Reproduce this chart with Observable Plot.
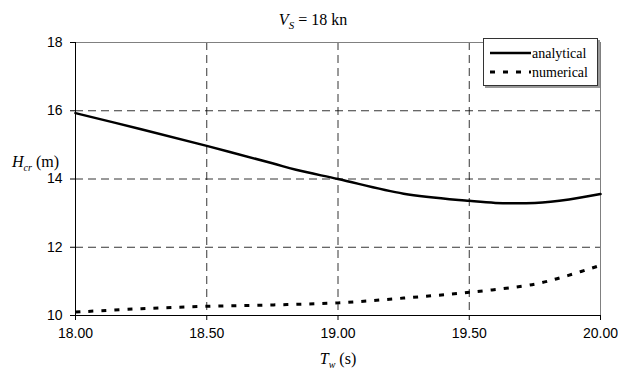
<!DOCTYPE html>
<html>
<head>
<meta charset="utf-8">
<script src="https://cdn.jsdelivr.net/npm/d3@7"></script>
<script src="https://cdn.jsdelivr.net/npm/@observablehq/plot@0.6"></script>
<style>
  html, body { margin: 0; padding: 0; background: #fff; }
  #wrap { position: relative; width: 618px; height: 371px; overflow: hidden; }
  .ov { position: absolute; font-family: "Liberation Serif", "Times New Roman", serif; color: #000; white-space: nowrap; }
  #legend { position: absolute; left: 483px; top: 38px; width: 113px; height: 46px; background: #fff;
            border: 1px solid #333; box-shadow: 2px 2px 0 #999; }
</style>
</head>
<body>
<div id="wrap">
  <div id="chart"></div>
  <div class="ov" id="title" style="left:213px; top:11px; width:200px; text-align:center; font-size:16px;"><i>V</i><sub style="font-size:11px;"><i>S</i></sub> = 18 kn</div>
  <div class="ov" id="ylab" style="left:12px; top:153px; font-size:16px;"><i>H</i><sub style="font-size:10px;"><i>cr</i></sub>&nbsp;(m)</div>
  <div class="ov" id="xlab" style="left:300px; top:350px; width:76px; text-align:center; font-size:16px;"><i>T</i><sub style="font-size:10px;"><i>w</i></sub> (s)</div>
  <div id="legend"></div>
</div>
<script>
// ---- data ----
const analyticalT = [18.0, 18.25, 18.5, 18.75, 18.84, 19.0, 19.25, 19.5, 19.6, 19.75, 19.88, 20.0];
const analyticalH = [15.93, 15.46, 14.97, 14.46, 14.27, 14.0, 13.57, 13.36, 13.30, 13.30, 13.40, 13.56];
const numericalT = [18.0, 18.25, 18.5, 18.75, 19.0, 19.25, 19.5, 19.75, 19.875, 20.0];
const numericalH = [10.10, 10.20, 10.27, 10.31, 10.37, 10.51, 10.68, 10.92, 11.17, 11.47];
const xTicks = [18.0, 18.5, 19.0, 19.5, 20.0];
const yTicks = [10, 12, 14, 16, 18];
const seriesNames = ["analytical", "numerical"];

const analytical = analyticalT.map((t, i) => ({t, h: analyticalH[i]}));
const numerical = numericalT.map((t, i) => ({t, h: numericalH[i]}));

const gridDash = "8,5";
const numDash = "5,8";

const chart = Plot.plot({
  width: 618,
  height: 371,
  marginLeft: 75,
  marginRight: 18,
  marginTop: 42,
  marginBottom: 56,
  style: {fontFamily: "'Liberation Sans', Arial, sans-serif", fontSize: "14px", background: "#fff", color: "#000"},
  x: {domain: [18, 20], ticks: xTicks, tickFormat: d3.format(".2f")},
  y: {domain: [10, 18], ticks: yTicks},
  marks: [
    Plot.gridX(xTicks.slice(1, -1), {stroke: "#000", strokeOpacity: 1, strokeWidth: 0.8, strokeDasharray: gridDash}),
    Plot.gridY(yTicks.slice(1, -1), {stroke: "#000", strokeOpacity: 1, strokeWidth: 0.8, strokeDasharray: gridDash}),
    Plot.ruleY([yTicks[yTicks.length - 1]], {stroke: "#808080"}),
    Plot.ruleX([xTicks[xTicks.length - 1]], {stroke: "#808080"}),
    Plot.line(analytical, {x: "t", y: "h", stroke: "#000", strokeWidth: 2.5, curve: "catmull-rom"}),
    Plot.line(numerical, {x: "t", y: "h", stroke: "#000", strokeWidth: 3, strokeLinecap: "butt", strokeDasharray: numDash, curve: "catmull-rom"}),
    Plot.ruleY([yTicks[0]], {stroke: "#000"}),
    Plot.ruleX([xTicks[0]], {stroke: "#000"}),
    Plot.axisX({ticks: xTicks, tickFormat: d3.format(".2f"), tickSize: 5, tickPadding: 8, label: null}),
    Plot.axisY({ticks: yTicks, tickSize: 5, tickPadding: 8, label: null})
  ]
});
document.getElementById("chart").appendChild(chart);

// legend
const leg = d3.select("#legend").append("svg").attr("width", 113).attr("height", 46);
const styles = [{dash: null, w: 2.5}, {dash: numDash, w: 3}];
seriesNames.forEach((name, i) => {
  const y = 14 + i * 19;
  leg.append("line").attr("x1", 6).attr("x2", 47).attr("y1", y).attr("y2", y)
    .attr("stroke", "#000").attr("stroke-width", styles[i].w)
    .attr("stroke-dasharray", styles[i].dash);
  leg.append("text").attr("x", 48).attr("y", y + 4.5)
    .attr("font-family", "'Liberation Serif', 'Times New Roman', serif")
    .attr("font-size", 14).attr("fill", "#000").text(name);
});
</script>
</body>
</html>
